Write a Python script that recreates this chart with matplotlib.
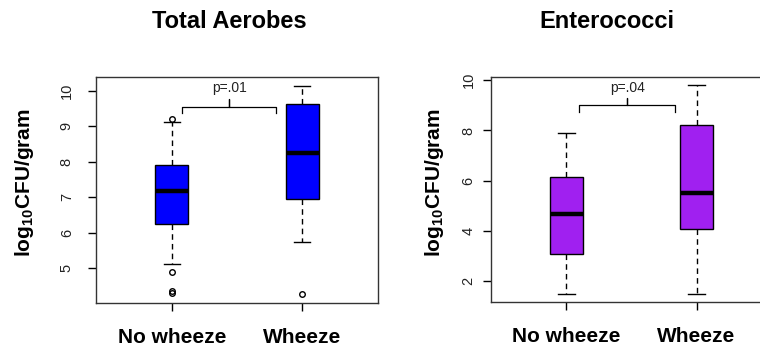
import matplotlib
matplotlib.use("Agg")
import matplotlib.pyplot as plt

plt.rcParams["font.family"] = ["Liberation Sans", "DejaVu Sans"]
plt.rcParams["mathtext.fontset"] = "custom"
plt.rcParams["mathtext.rm"] = "Liberation Sans:bold"
plt.rcParams["mathtext.bf"] = "Liberation Sans:bold"

groups = ["No wheeze", "Wheeze"]

# box summaries (log10 CFU/gram)
aer_whislo = [5.12, 5.74]
aer_q1 = [6.25, 6.94]
aer_med = [7.18, 8.24]
aer_q3 = [7.91, 9.64]
aer_whishi = [9.11, 10.14]
aer_fliers = [[9.21, 4.88, 4.28, 4.34], [4.27]]

ent_whislo = [1.48, 1.48]
ent_q1 = [3.09, 4.07]
ent_med = [4.68, 5.50]
ent_q3 = [6.15, 8.22]
ent_whishi = [7.91, 9.80]
ent_fliers = [[], []]

aer_yticks = [5, 6, 7, 8, 9, 10]
ent_yticks = [2, 4, 6, 8, 10]

aer_p = "p=.01"
ent_p = "p=.04"


def make_stats(lo, q1, med, q3, hi, fl):
    out = []
    for i in range(len(med)):
        out.append(dict(whislo=lo[i], q1=q1[i], med=med[i], q3=q3[i],
                        whishi=hi[i], fliers=fl[i], label=groups[i]))
    return out


def draw_panel(ax, stats, color, yticks, ylim, ypad):
    ax.bxp(stats, positions=[1, 2], widths=0.25, patch_artist=True,
           boxprops=dict(facecolor=color, edgecolor="black", linewidth=1.0),
           medianprops=dict(color="black", linewidth=3.2, solid_capstyle="butt"),
           whiskerprops=dict(color="black", linestyle=(0, (4, 3)), linewidth=1.0),
           capprops=dict(color="black", linewidth=1.0),
           capwidths=0.125,
           flierprops=dict(marker="o", markersize=4, markerfacecolor="none",
                           markeredgecolor="black", markeredgewidth=1.0))
    ax.set_xlim(0.42, 2.58)
    ax.set_ylim(*ylim)
    ax.set_yticks(yticks)
    ax.set_xticks([1, 2])
    ax.set_xticklabels(groups, fontsize=15, fontweight="bold")
    ax.tick_params(axis="x", length=6, width=1.0, pad=12)
    ax.tick_params(axis="y", length=6, width=1.0, labelsize=10.5, labelrotation=90,
                   pad=ypad, labelcolor="#222222")
    for lab in ax.get_yticklabels():
        lab.set_verticalalignment("center")
    for s in ax.spines.values():
        s.set_linewidth(1.0)
        s.set_color("#333333")


def draw_bracket(ax, x0, x1, xm, y_end, y_bar, y_top, y_text, text):
    ax.plot([x0, x0, xm - 0.02, xm, xm, xm, xm + 0.02, x1, x1],
            [y_end, y_bar, y_bar, y_bar, y_top, y_bar, y_bar, y_bar, y_end],
            color="black", linewidth=0.9)
    ax.text(xm, y_text, text, ha="center", va="center", fontsize=10, color="#222222")


fig = plt.figure(figsize=(7.6, 3.56), dpi=100)
ax1 = fig.add_axes([96 / 760, 1 - 303 / 356, 282 / 760, 226 / 356])
ax2 = fig.add_axes([491 / 760, 1 - 302 / 356, 281 / 760, 225 / 356])

draw_panel(ax1, make_stats(aer_whislo, aer_q1, aer_med, aer_q3, aer_whishi, aer_fliers),
           "#0000FF", aer_yticks, (4.01, 10.39), 10)
draw_panel(ax2, make_stats(ent_whislo, ent_q1, ent_med, ent_q3, ent_whishi, ent_fliers),
           "#A020F0", ent_yticks, (1.17, 10.13), 5)

draw_bracket(ax1, 1.075, 1.80, 1.44, 9.36, 9.55, 9.76, 10.07, aer_p)
draw_bracket(ax2, 1.097, 1.837, 1.468, 8.72, 9.03, 9.30, 9.70, ent_p)

fig.text(229 / 760, 1 - 21 / 356, "Total Aerobes", ha="center", va="center",
         fontsize=17, fontweight="bold")
fig.text(607 / 760, 1 - 21 / 356, "Enterococci", ha="center", va="center",
         fontsize=17, fontweight="bold")

ylab = r"log$_{\mathbf{10}}$CFU/gram"
fig.text(25 / 760, 1 - 183 / 356, ylab, rotation=90, ha="center", va="center",
         fontsize=15, fontweight="bold")
fig.text(435 / 760, 1 - 183 / 356, ylab, rotation=90, ha="center", va="center",
         fontsize=15, fontweight="bold")

fig.savefig("out.png", dpi=100)
